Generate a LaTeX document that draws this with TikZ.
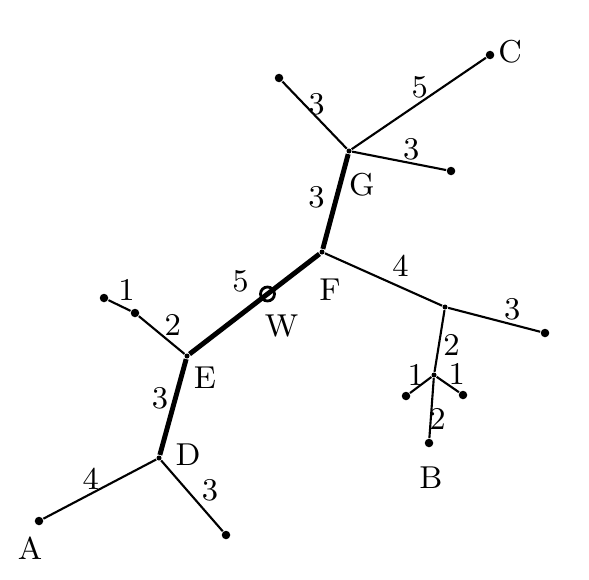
\documentclass[tikz,border=0pt]{standalone}
\usepackage{amsmath}
\usepackage{tikz}
\usetikzlibrary{positioning,calc}

\begin{document}
\begin{tikzpicture}[x=0.01cm,y=-0.01cm,font=\small,
   dot/.style={circle,fill,inner sep=0pt,minimum size=0.85mm},
   jn/.style={circle,fill,inner sep=0pt,minimum size=0.5mm},
   thin edge/.style={line width=0.6pt},
   bold edge/.style={line width=1.4pt},
   lab/.style={inner sep=0pt}]
  \useasboundingbox (0,0) rectangle (589,579);
  % vertices
  \node[dot] (a)  at (39,521)  {};
  \node[jn]  (d)  at (159,458) {};
  \node[dot] (d1) at (226,535) {};
  \node[jn]  (e)  at (187,356) {};
  \node[dot] (e1) at (135,313) {};
  \node[dot] (e2) at (104,298) {};
  \node[jn]  (f)  at (322,252) {};
  \node[jn]  (g)  at (349,151) {};
  \node[dot] (g1) at (279,78)  {};
  \node[dot] (c)  at (490,55)  {};
  \node[dot] (g2) at (451,171) {};
  \node[jn]  (h)  at (445,307) {};
  \node[dot] (h1) at (545,333) {};
  \node[jn]  (i)  at (434,375) {};
  \node[dot] (i1) at (406,396) {};
  \node[dot] (i2) at (463,395) {};
  \node[dot] (b)  at (429,443) {};
  % edges
  \draw[thin edge] (a)--(d) node[lab,midway,shift={(-9,-10)}]{$4$};
  \draw[thin edge] (d)--(d1) node[lab,midway,shift={(18,-6)}]{$3$};
  \draw[bold edge] (d)--(e) node[lab,midway,shift={(-13,-9)}]{$3$};
  \draw[thin edge] (e)--(e1) node[lab,midway,shift={(11,-10)}]{$2$};
  \draw[thin edge] (e1)--(e2) node[lab,midway,shift={(7,-15)}]{$1$};
  \draw[bold edge] (e)--(f) node[lab,pos=0.4,shift={(-1,-33)}]{$5$}
     node[draw,circle,line width=0.8pt,minimum size=1.4mm,inner sep=0pt,pos=0.6] (w) {};
  \draw[bold edge] (f)--(g) node[lab,midway,shift={(-19,-4)}]{$3$};
  \draw[thin edge] (g)--(g1) node[lab,midway,shift={(2,-11)}]{$3$};
  \draw[thin edge] (g)--(c) node[lab,midway,shift={(1,-16)}]{$5$};
  \draw[thin edge] (g)--(g2) node[lab,midway,shift={(12,-12)}]{$3$};
  \draw[thin edge] (f)--(h) node[lab,midway,shift={(17,-13)}]{$4$};
  \draw[thin edge] (h)--(h1) node[lab,midway,shift={(18,-10)}]{$3$};
  \draw[thin edge] (h)--(i) node[lab,midway,shift={(12,4)}]{$2$};
  \draw[thin edge] (i)--(i1) node[lab,midway,shift={(-5,-10)}]{$1$};
  \draw[thin edge] (i)--(i2) node[lab,midway,shift={(9,-10)}]{$1$};
  \draw[thin edge] (i)--(b) node[lab,midway,shift={(6,11)}]{$2$};
  % vertex names
  \node at ($(a)+(-9,27)$)  {A};
  \node at ($(b)+(2,35)$)   {B};
  \node at ($(c)+(20,-3)$)  {C};
  \node at ($(d)+(29,-3)$)  {D};
  \node at ($(e)+(18,22)$)  {E};
  \node at ($(f)+(8,38)$)   {F};
  \node at ($(g)+(13,34)$)  {G};
  \node at ($(w)+(14,32)$)  {W};
\end{tikzpicture}
\end{document}
